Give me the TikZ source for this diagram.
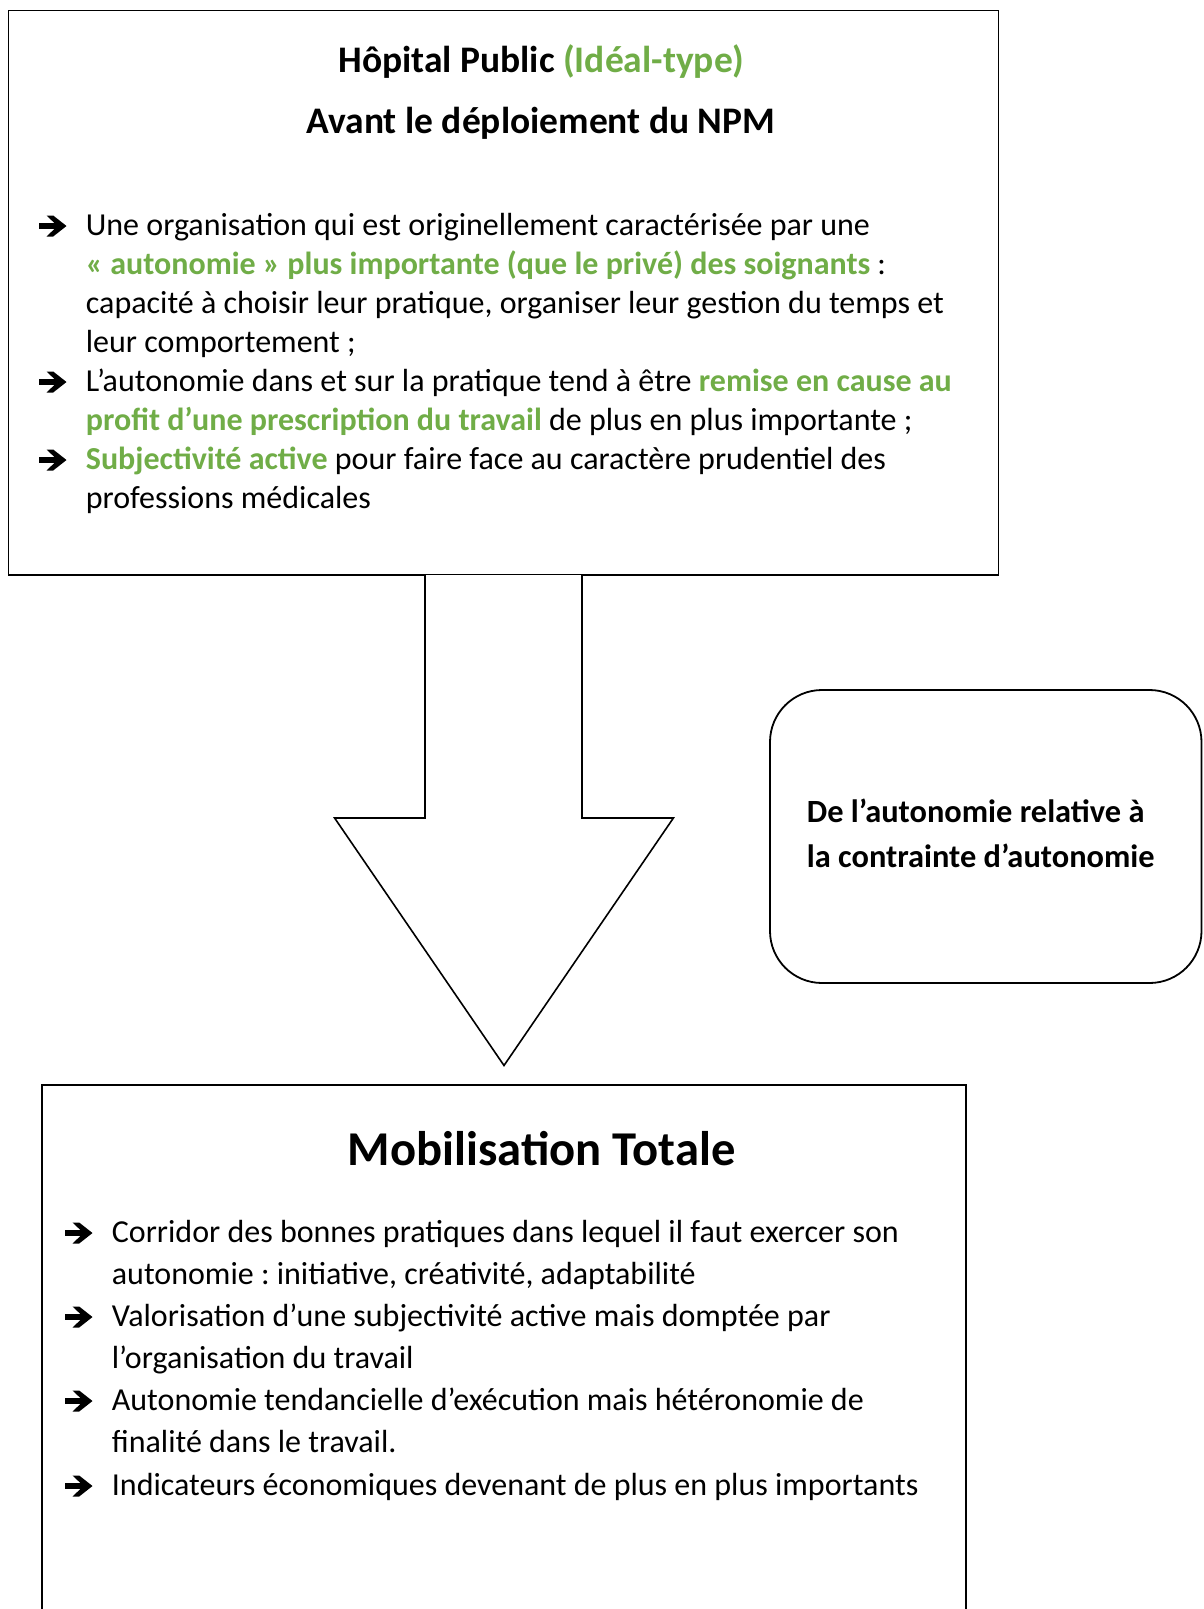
\documentclass[tikz,border=0pt]{standalone}
\usepackage{fontspec}
\setmainfont{Carlito}
\definecolor{grn}{HTML}{70AD47}
\frenchspacing
\begin{document}
\begin{tikzpicture}[x=1pt,y=-1pt,line width=1.8pt,
  box/.style={draw=black,line width=1.8pt,inner sep=0pt},
  body/.style={anchor=base west,inner sep=0pt,font=\fontsize{32}{38}\selectfont},
  ttl/.style={anchor=base,inner sep=0pt,font=\bfseries\fontsize{37.5}{44}\selectfont},
  arrowbullet/.pic={\fill[black,line join=miter] (0,-2.9) -- (15.5,-2.9) -- (7.5,-10.5) -- (14.2,-10.5) -- (27.5,0) -- (14.2,10.5) -- (7.5,10.5) -- (15.5,2.9) -- (0,2.9) -- cycle;}]
\useasboundingbox (0,0) rectangle (1203,1609);
\fill[white] (0,0) rectangle (1203,1609);
\begin{scope}
\clip (0,0) rectangle (1203,1609);
% top box
\draw[box] (8.5,10.5) rectangle (998.5,575);
\node (topbox) at (503.5,292.75) {};
% bottom box
\draw[box] (42,1085) rectangle (966,1640);
\node (botbox) at (504,1300) {};
% block arrow
\draw[line width=1.6pt,fill=white,line join=miter]
  (425,575) -- (425,818) -- (334.6,818) -- (504,1065.5) -- (673.4,818) -- (582,818) -- (582,575);
% rounded box
\draw[box,rounded corners=52pt] (770,690) rectangle (1201.5,983);
\node (midbox) at (985,836) {};
\end{scope}

% titles
\node[ttl] (t1) at (541.5,72) {Hôpital Public \textcolor{grn}{(Idéal-type)}};
\node[ttl] (t2) at (541,133) {Avant le déploiement du NPM};

% top bullets
\pic at (39,226) {arrowbullet};
\node[body] (l1) at (85,235) {Une organisation qui est originellement caractérisée par une};
\node[body] (l2) at (85,274) {\textcolor{grn}{\bfseries « autonomie » plus importante (que le privé) des soignants} :};
\node[body] (l3) at (85,313) {capacité à choisir leur pratique, organiser leur gestion du temps et};
\node[body] (l4) at (85,352) {leur comportement ;};
\pic at (39,382) {arrowbullet};
\node[body] (l5) at (85,391) {L’autonomie dans et sur la pratique tend à être \textcolor{grn}{\bfseries remise en cause au}};
\node[body] (l6) at (85,430) {\textcolor{grn}{\bfseries profit d’une prescription du travail} de plus en plus importante ;};
\pic at (39,460) {arrowbullet};
\node[body] (l7) at (85,469) {\textcolor{grn}{\bfseries Subjectivité active} pour faire face au caractère prudentiel des};
\node[body] (l8) at (85,508) {professions médicales};

% middle box text
\node[body,font=\bfseries\fontsize{32.4}{38}\selectfont] (m1) at (806,822) {De l’autonomie relative à};
\node[body,font=\bfseries\fontsize{32.4}{38}\selectfont] (m2) at (806,867) {la contrainte d’autonomie};

% bottom title
\node[ttl,font=\bfseries\fontsize{48.6}{56}\selectfont] (t3) at (541.5,1165) {Mobilisation Totale};

% bottom bullets
\pic at (65,1233) {arrowbullet};
\node[body] (k1) at (111,1242) {Corridor des bonnes pratiques dans lequel il faut exercer son};
\node[body] (k2) at (111,1284) {autonomie : initiative, créativité, adaptabilité};
\pic at (65,1317) {arrowbullet};
\node[body] (k3) at (111,1326) {Valorisation d’une subjectivité active mais domptée par};
\node[body] (k4) at (111,1368) {l’organisation du travail};
\pic at (65,1401) {arrowbullet};
\node[body] (k5) at (111,1410) {Autonomie tendancielle d’exécution mais hétéronomie de};
\node[body] (k6) at (111,1452) {finalité dans le travail.};
\pic at (65,1486) {arrowbullet};
\node[body] (k7) at (111,1495) {Indicateurs économiques devenant de plus en plus importants};
\end{tikzpicture}
\end{document}
